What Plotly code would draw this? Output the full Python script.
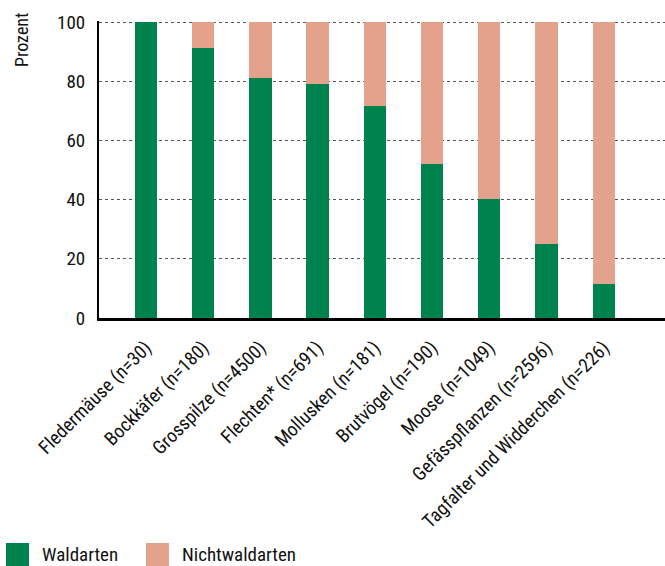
import plotly.graph_objects as go

categories = ["Fledermäuse (n=30)", "Bockkäfer (n=180)", "Grosspilze (n=4500)",
              "Flechten* (n=691)", "Mollusken (n=181)", "Brutvögel (n=190)",
              "Moose (n=1049)", "Gefässpflanzen (n=2596)", "Tagfalter und Widderchen (n=226)"]
waldarten = [100, 91.4, 81.0, 79.2, 71.5, 52.2, 40.3, 25.1, 11.5]
nichtwaldarten = [round(100 - v, 1) for v in waldarten]
y_ticks = [0, 20, 40, 60, 80, 100]
series_names = ["Waldarten", "Nichtwaldarten"]

GREEN = "#00824F"
SALMON = "#E2A28B"
FONT = "Liberation Sans Narrow, Arial Narrow, Roboto Condensed, sans-serif"

fig = go.Figure()
fig.add_bar(x=categories, y=waldarten, name=series_names[0], marker_color=GREEN,
            marker_line_width=0, width=0.39)
fig.add_bar(x=categories, y=nichtwaldarten, name=series_names[1], marker_color=SALMON,
            marker_line_width=0, width=0.39)

fig.update_layout(
    barmode="stack",
    width=665, height=566,
    margin=dict(l=99, r=0, t=21, b=248),
    plot_bgcolor="white", paper_bgcolor="white",
    showlegend=False,
    font=dict(family=FONT, size=17, color="#111"),
    xaxis=dict(
        range=[-0.82, 9.07], tickangle=-45, showgrid=False,
        showline=True, linecolor="black", linewidth=3,
        ticks="outside", ticklen=8, tickcolor="rgba(0,0,0,0)",
        tickfont=dict(size=19, family=FONT),
    ),
    yaxis=dict(
        range=[0, 100.4], tickvals=y_ticks, showgrid=True, gridcolor="#555",
        griddash="dot", gridwidth=1, zeroline=False,
        showline=True, linecolor="black", linewidth=2,
        ticks="outside", ticklen=8, tickcolor="rgba(0,0,0,0)",
        tickfont=dict(size=19, family=FONT),
    ),
)

fig.add_annotation(text="Prozent", textangle=-90, xref="paper", yref="paper",
                   x=-0.137, y=1.035, xanchor="center", yanchor="top",
                   showarrow=False, font=dict(size=18, family=FONT))

# legend drawn manually
legend_items = [(series_names[0], GREEN, 6), (series_names[1], SALMON, 146)]
for name, col, x0 in legend_items:
    fig.add_shape(type="rect", xref="paper", yref="paper",
                  x0=(x0 - 99) / 566, x1=(x0 + 23 - 99) / 566,
                  y0=(318 - 566) / 297, y1=(318 - 543) / 297,
                  fillcolor=col, line_width=0)
    fig.add_annotation(text=name, xref="paper", yref="paper",
                       x=(x0 + 34 - 99) / 566, y=(318 - 554.5) / 297,
                       xanchor="left", yanchor="middle", showarrow=False,
                       font=dict(size=19, family=FONT))

fig.write_html("out.html", config={"displayModeBar": False},
               post_script="document.body.style.margin='0';document.body.style.overflow='hidden';")
